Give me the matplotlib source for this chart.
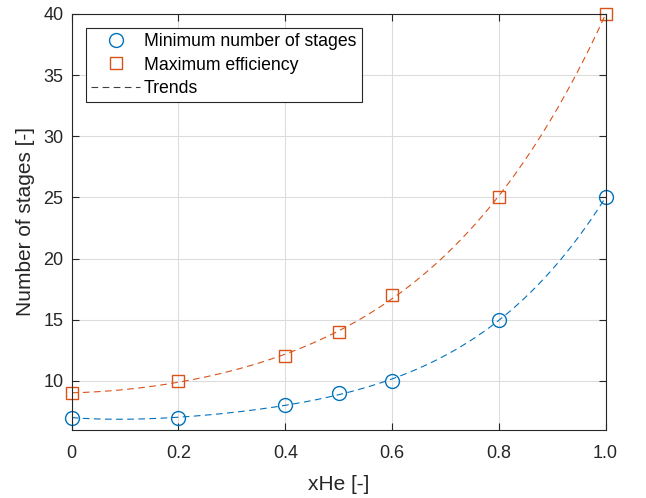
import numpy as np
import matplotlib
matplotlib.use("Agg")
import matplotlib.pyplot as plt
from matplotlib.lines import Line2D

plt.rcParams['font.family'] = ['Liberation Sans', 'DejaVu Sans']

# helium fraction and stage counts
x_he = [0, 0.2, 0.4, 0.5, 0.6, 0.8, 1.0]
stages_min = [7, 7, 8, 9, 10, 15, 25]
stages_eff = [9, 10, 12, 14, 17, 25, 40]
xtick_vals = [0, 0.2, 0.4, 0.6, 0.8, 1.0]
xtick_labels = ['0', '0.2', '0.4', '0.6', '0.8', '1.0']

blue = '#0072BD'
orange = '#D95319'
axc = '#262626'

fig = plt.figure(figsize=(6.46, 4.98), dpi=100)
ax = fig.add_axes([0.111, 0.137, 0.8265, 0.835])

# polynomial trend through each series
xs = np.linspace(0, 1, 200)
for ys, c in [(stages_min, blue), (stages_eff, orange)]:
    p = np.polyfit(x_he, ys, 4)
    ax.plot(xs, np.polyval(p, xs), '--', color=c, lw=0.8, dashes=(6, 4))

ax.plot(x_he, stages_min, 'o', mfc='none', mec=blue, ms=10, mew=1.0, clip_on=False)
ax.plot(x_he, stages_eff, 's', mfc='none', mec=orange, ms=8, mew=1.0, clip_on=False)

ax.set_xlim(0, 1)
ax.set_ylim(6, 40)
ax.set_xticks(xtick_vals)
ax.set_xticklabels(xtick_labels)
ax.set_yticks(range(10, 41, 5))
ax.grid(True, color='#dcdcdc', lw=0.8)
ax.set_axisbelow(True)
ax.tick_params(direction='in', length=5, width=0.8, top=True, right=True,
               labelsize=13, colors=axc)
ax.tick_params(axis='x', pad=11)
ax.tick_params(axis='y', pad=6)
for s in ax.spines.values():
    s.set_color(axc)
    s.set_linewidth(0.8)

ax.set_xlabel('xHe [-]', fontsize=15, color=axc, labelpad=9)
ax.set_ylabel('Number of stages [-]', fontsize=15, color=axc, labelpad=6)

handles = [
    Line2D([], [], ls='none', marker='o', mfc='none', mec=blue, ms=10, mew=1.0),
    Line2D([], [], ls='none', marker='s', mfc='none', mec=orange, ms=8, mew=1.0),
    Line2D([], [], ls='--', color='#404040', lw=0.8, dashes=(6, 4)),
]
leg = ax.legend(handles, ['Minimum number of stages', 'Maximum efficiency', 'Trends'],
                loc='upper left', bbox_to_anchor=(0.0, 1.0), fontsize=12.7,
                fancybox=False, framealpha=1, edgecolor=axc, handlelength=2.8,
                handletextpad=0.2, borderpad=0.3, labelspacing=0.35, borderaxespad=0.8)
leg.get_frame().set_linewidth(0.8)

fig.savefig('out.png', dpi=100)
